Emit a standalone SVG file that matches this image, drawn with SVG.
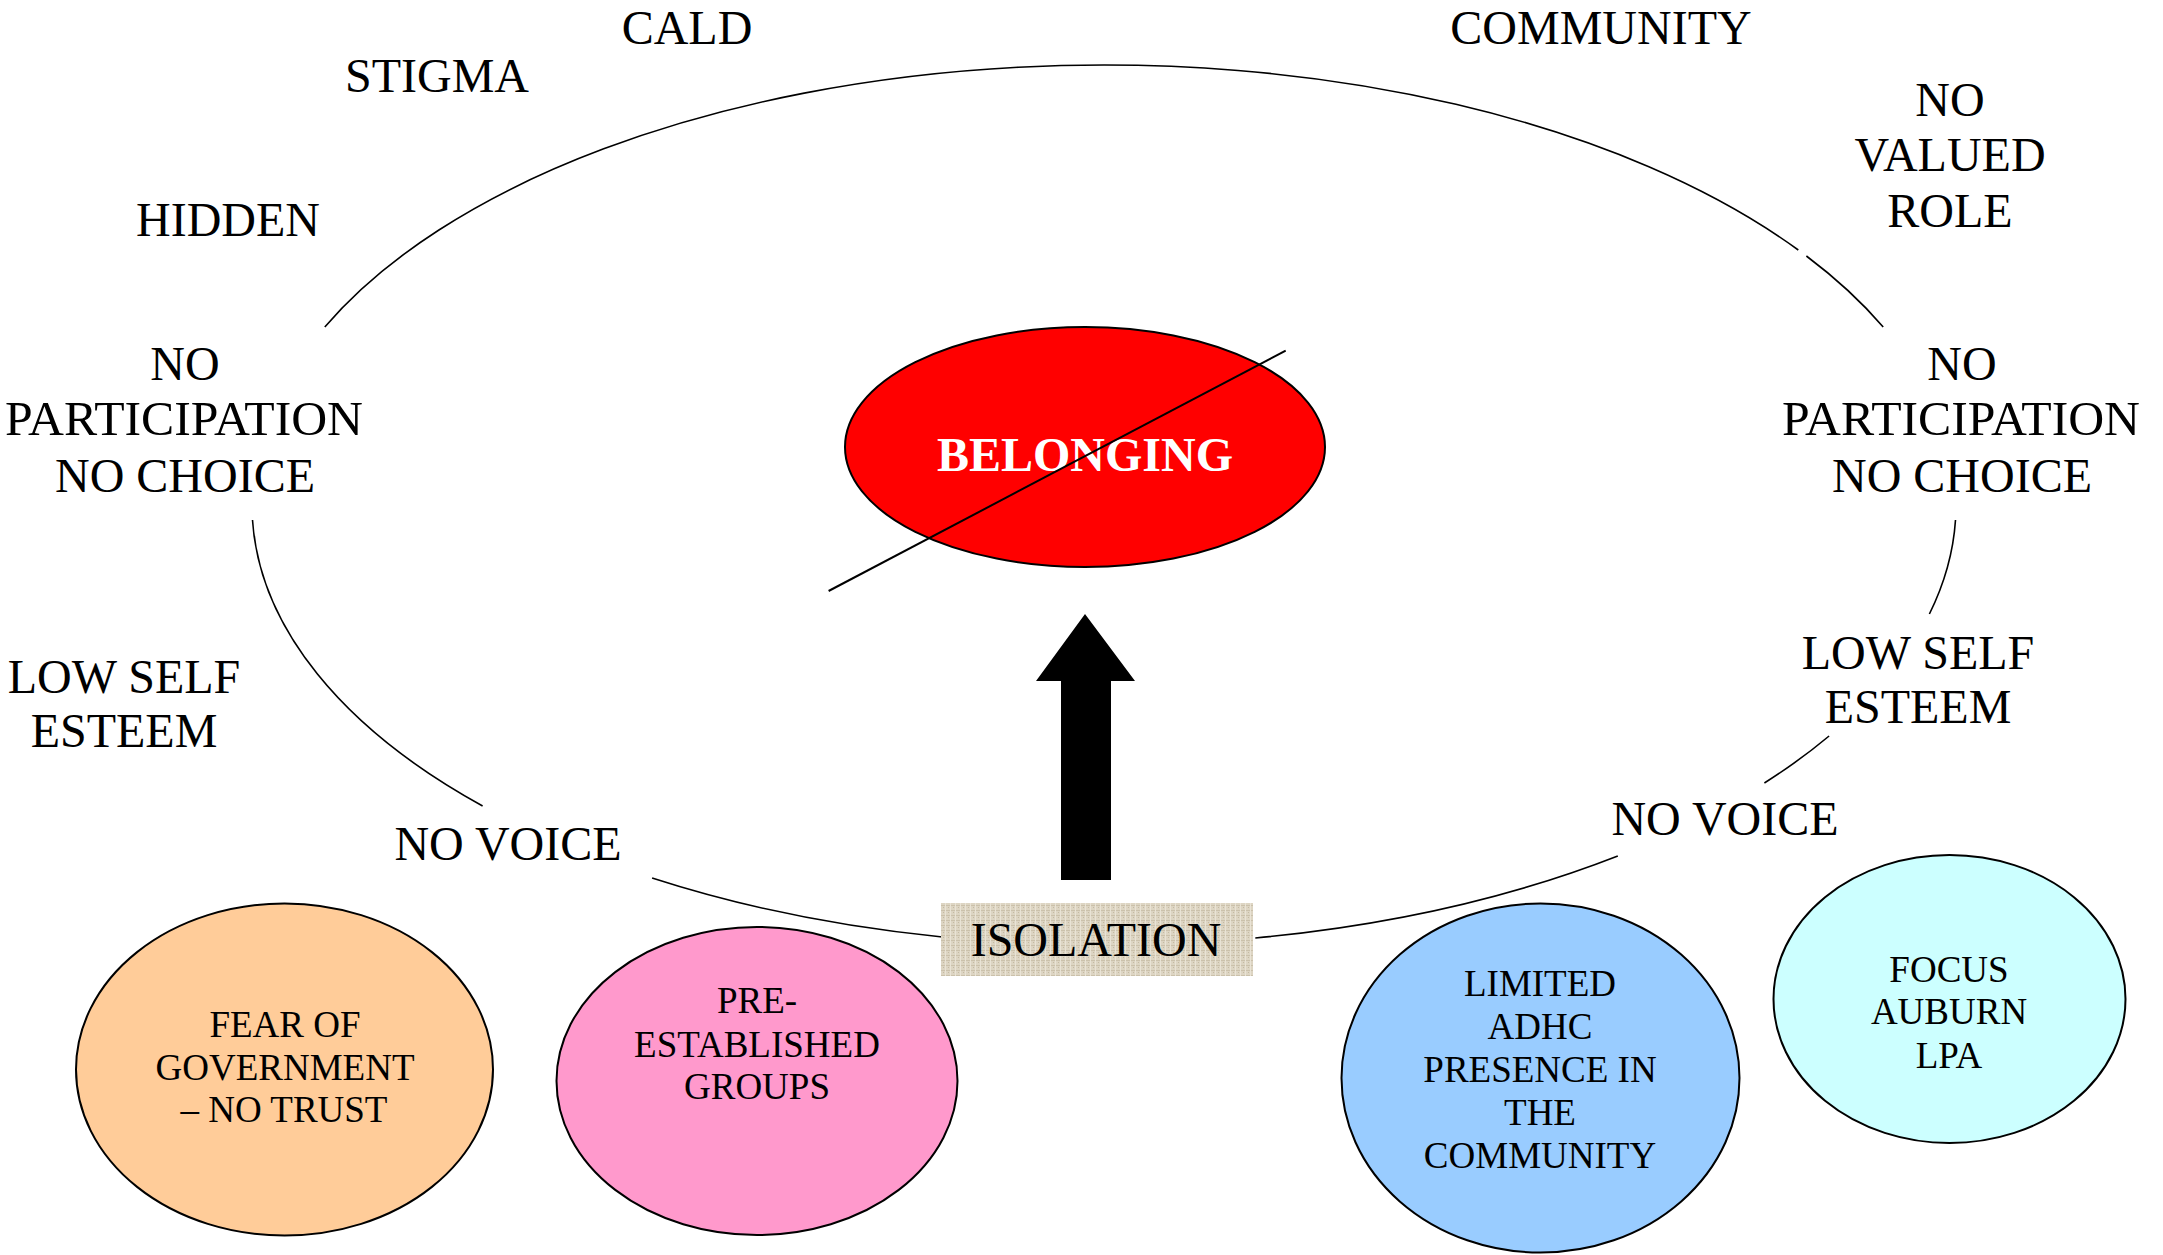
<svg xmlns="http://www.w3.org/2000/svg" width="2163" height="1255" viewBox="0 0 2163 1255">
<style>
  .t { font-family: "Liberation Serif", "Times New Roman", serif; font-size: 48px; fill: #000; text-anchor: middle; }
  .s { font-family: "Liberation Serif", "Times New Roman", serif; font-size: 37px; fill: #000; text-anchor: middle; }
  .node { stroke: #000; stroke-width: 2; }
  .arc { fill: none; stroke: #000; stroke-width: 1.6; }
</style>
<defs>
  <pattern id="linen" width="5" height="5" patternUnits="userSpaceOnUse">
    <rect width="5" height="5" fill="#ddd5c3"/>
    <rect width="5" height="1" fill="#cbc1ab"/>
    <rect width="1" height="5" fill="#e9e3d5"/>
    <rect x="3" y="2" width="1" height="1" fill="#c4b9a2"/>
  </pattern>
</defs>
<rect width="2163" height="1255" fill="#fff"/>

<g id="connectors">
  <path class="arc" d="M 324.8 327 A 852 440 0 0 1 1798.3 250"/>
  <path class="arc" d="M 1806.4 256 A 852 440 0 0 1 1883.2 327"/>
  <path class="arc" d="M 1955.5 520 A 852 440 0 0 1 1929.4 614"/>
  <path class="arc" d="M 1829.1 736 A 852 440 0 0 1 1764.4 783"/>
  <path class="arc" d="M 1617.8 856 A 852 440 0 0 1 1255.3 938"/>
  <path class="arc" d="M 942.3 937 A 852 440 0 0 1 652.1 878"/>
  <path class="arc" d="M 482.6 806 A 852 440 0 0 1 252.5 520"/>
</g>

<g id="labels">
  <text class="t" x="687" y="44">CALD</text>
  <text class="t" x="437" y="92">STIGMA</text>
  <text class="t" x="228" y="236">HIDDEN</text>
  <text class="t" x="185" y="380">NO</text>
  <text class="t" x="184" y="435" textLength="358" lengthAdjust="spacingAndGlyphs">PARTICIPATION</text>
  <text class="t" x="185" y="492">NO CHOICE</text>
  <text class="t" x="124" y="693">LOW SELF</text>
  <text class="t" x="124" y="747">ESTEEM</text>
  <text class="t" x="508" y="860">NO VOICE</text>
  <text class="t" x="1601" y="44">COMMUNITY</text>
  <text class="t" x="1950" y="116">NO</text>
  <text class="t" x="1950" y="171">VALUED</text>
  <text class="t" x="1950" y="227">ROLE</text>
  <text class="t" x="1962" y="380">NO</text>
  <text class="t" x="1961" y="435" textLength="358" lengthAdjust="spacingAndGlyphs">PARTICIPATION</text>
  <text class="t" x="1962" y="492">NO CHOICE</text>
  <text class="t" x="1918" y="669">LOW SELF</text>
  <text class="t" x="1918" y="723">ESTEEM</text>
  <text class="t" x="1725" y="835">NO VOICE</text>
</g>

<g id="belonging">
  <ellipse class="node" cx="1085" cy="447" rx="240" ry="120" fill="#ff0000"/>
  <text x="1085" y="471" font-family="'Liberation Serif', 'Times New Roman', serif" font-size="48" font-weight="bold" fill="#fff" text-anchor="middle">BELONGING</text>
  <line x1="828.6" y1="591" x2="1285.7" y2="350.7" stroke="#000" stroke-width="2"/>
</g>

<g id="arrow">
  <polygon points="1085,614 1135,681 1111,681 1111,880 1061,880 1061,681 1036,681" fill="#000"/>
</g>

<g id="isolation">
  <rect x="941" y="903" width="312" height="73" fill="url(#linen)"/>
  <text class="t" x="1096" y="956">ISOLATION</text>
</g>

<g id="fear">
  <ellipse class="node" cx="284.5" cy="1069.5" rx="208.5" ry="166" fill="#ffcc99"/>
  <text class="s" x="285" y="1037">FEAR OF</text>
  <text class="s" x="285" y="1080">GOVERNMENT</text>
  <text class="s" x="284" y="1122">– NO TRUST</text>
</g>

<g id="preestablished">
  <ellipse class="node" cx="757" cy="1081" rx="200.5" ry="154" fill="#ff99cc"/>
  <text class="s" x="757" y="1013">PRE-</text>
  <text class="s" x="757" y="1057">ESTABLISHED</text>
  <text class="s" x="757" y="1099">GROUPS</text>
</g>

<g id="adhc">
  <ellipse class="node" cx="1540.5" cy="1078" rx="199" ry="174.5" fill="#99ccff"/>
  <text class="s" x="1540" y="996">LIMITED</text>
  <text class="s" x="1540" y="1039">ADHC</text>
  <text class="s" x="1540" y="1082">PRESENCE IN</text>
  <text class="s" x="1540" y="1125">THE</text>
  <text class="s" x="1540" y="1168">COMMUNITY</text>
</g>

<g id="focus">
  <ellipse class="node" cx="1949.5" cy="999" rx="176" ry="144" fill="#ccffff"/>
  <text class="s" x="1949" y="982">FOCUS</text>
  <text class="s" x="1949" y="1024">AUBURN</text>
  <text class="s" x="1949" y="1068">LPA</text>
</g>
</svg>
